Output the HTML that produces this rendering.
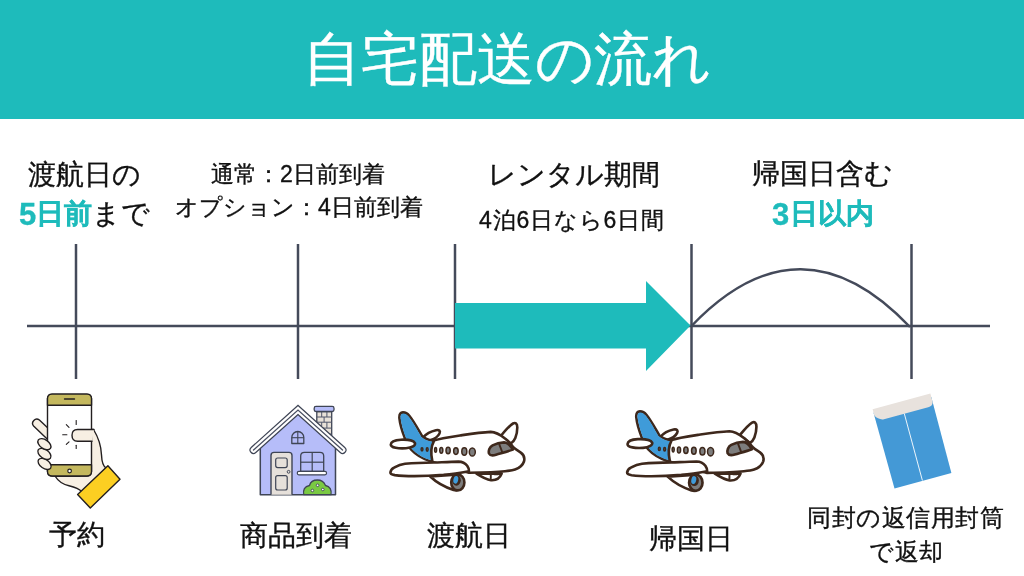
<!DOCTYPE html>
<html lang="ja">
<head>
<meta charset="utf-8">
<style>
html,body{margin:0;padding:0;}
body{width:1024px;height:576px;position:relative;overflow:hidden;background:#fff;font-family:"Liberation Sans",sans-serif;color:#111;}
.hdr{position:absolute;left:0;top:0;width:1024px;height:118.5px;background:#1ebbbb;}
.t{position:absolute;white-space:nowrap;line-height:1;will-change:transform;-webkit-text-stroke:0.35px currentColor;}
.teal{color:#1ebbbb;font-weight:bold;}
svg{position:absolute;left:0;top:0;}
</style>
</head>
<body>
<div class="hdr"></div>
<div class="t" style="left:303px;top:30px;font-size:58px;color:#fff;">自宅配送の流れ</div>

<div class="t" style="left:28px;top:161px;font-size:28px;">渡航日の</div>
<div class="t" style="left:19px;top:200px;font-size:28px;"><span class="teal"><span style="font-size:31px;line-height:0;position:relative;top:1.5px">5</span>日前</span>まで</div>

<div class="t" style="left:211px;top:163px;font-size:23px;">通常：2日前到着</div>
<div class="t" style="left:175px;top:196px;font-size:23px;">オプション：4日前到着</div>

<div class="t" style="left:488px;top:161px;font-size:27.5px;">レンタル期間</div>
<div class="t" style="left:479px;top:209px;font-size:23px;letter-spacing:0.8px;">4泊6日なら6日間</div>

<div class="t" style="left:752px;top:160px;font-size:28px;">帰国日含む</div>
<div class="t teal" style="left:772px;top:200px;font-size:28px;letter-spacing:0.3px;"><span style="font-size:31px;line-height:0;position:relative;top:1.5px">3</span>日以内</div>

<div class="t" style="left:49px;top:521px;font-size:28px;">予約</div>
<div class="t" style="left:240px;top:522px;font-size:28px;">商品到着</div>
<div class="t" style="left:427px;top:522px;font-size:28px;">渡航日</div>
<div class="t" style="left:649px;top:525px;font-size:28px;">帰国日</div>
<div class="t" style="left:807px;top:506px;font-size:24px;letter-spacing:0.57px;">同封の返信用封筒</div>
<div class="t" style="left:869px;top:540px;font-size:24px;letter-spacing:0.6px;">で返却</div>

<svg width="1024" height="576" viewBox="0 0 1024 576">
 <defs>
  <g id="plane" stroke="#3e281c" stroke-width="2.6" stroke-linejoin="round" stroke-linecap="round">
   <!-- far stabilizer -->
   <path d="M423 437.5 C426 434 431 431.2 436 430.2 C439.5 429.6 440.6 431.2 439.5 433.5 C438 436.5 434.5 439 430 440.2 C426.5 441 423.5 440 423 437.5 Z" fill="#fff"/>
   <!-- winglet -->
   <path d="M500.8 436 C504.5 431.5 509.5 425.5 513 423.5 C515.5 422.2 517.3 423.5 517.3 427.5 C517.3 431 516.5 435 515.3 438 C514.3 440.5 512.5 442.5 510.8 443.5 Z" fill="#fff"/>
   <!-- fuselage -->
   <path d="M403 412.4 C400.5 412.6 399.2 414.5 399.4 418 C400 424 402.5 432 405 438.5 C406.5 443 408.5 446.5 411 449.5 C416 455 423 459 431 461.5 L469 472.8 C480 472.6 495 472.3 505 471.2 C510 470.8 513 470.3 515 469.6 C519.5 468 522.8 465 524 461.5 C525 457.5 523.5 454.5 520.8 452.6 C518 450.8 515.5 449.5 513.2 447.2 C511.5 444.5 509 441.5 505 438.5 C500 434.5 495 432 490.7 431.9 C480 432.4 470 434 460 435.5 C450 437 440 438.5 432.8 440.8 C428 440 424.5 438.5 422 436 C419 431 414 421.5 409.5 416 C407.5 413.5 405.5 412.4 403 412.4 Z" fill="#fff"/>
   <!-- blue tail -->
   <path d="M403 413.5 C401 413.7 400.3 415.3 400.5 418 C401.2 424 403.5 432 406 438.3 C407.5 442.6 409.4 446 411.8 448.8 C416.5 454.2 423.5 458.2 431.8 460.5 C430.6 455 430.4 447.5 432.6 441.8 C427.8 441 424 439.4 421.2 436.7 C418.3 431.8 413.3 422.3 408.8 416.8 C406.8 414.5 405 413.4 403 413.5 Z" fill="#3f9bd9" stroke="none"/>
   <path d="M433.8 441.3 C431.2 446 430.8 454 432.3 461.1" fill="none"/>
   <!-- near stabilizer -->
   <path d="M390.8 444.5 C391 441.8 395.2 440 401 439.7 C407.8 439.4 413.5 440.5 415 443.1 C415.6 445.4 412.2 447.8 406 448.2 C398.8 448.7 390.6 447.8 390.8 444.5 Z" fill="#fff"/>
   <!-- windows -->
   <g fill="#7d7d7d" stroke-width="1.5">
    <ellipse cx="422" cy="449.3" rx="0.9" ry="1.6"/>
    <ellipse cx="427.2" cy="449.5" rx="0.9" ry="1.7"/>
    <ellipse cx="435.6" cy="449.9" rx="1.0" ry="2.3"/>
    <ellipse cx="441.3" cy="450.3" rx="1.55" ry="2.9"/>
    <ellipse cx="448.1" cy="450.5" rx="2.1" ry="3.2"/>
    <ellipse cx="455.9" cy="451.1" rx="2.25" ry="3.35"/>
    <ellipse cx="464.3" cy="451.5" rx="2.5" ry="3.7"/>
    <ellipse cx="472.3" cy="452" rx="3" ry="4.1"/>
   </g>
   <!-- cockpit -->
   <path d="M492.6 445.3 C496 443.6 500 442.6 504.1 442.4 C507.5 442.5 510.5 445.5 512.8 449.6 C508 451.5 502 453 496 454.8 C493 455.7 490 455.5 489 453.5 C488.2 451 489.5 447 492.6 445.3 Z" fill="#7d7d7d"/>
   <path d="M499.3 444.4 L502.2 452" fill="none" stroke-width="1.9"/>
   <!-- rear gear -->
   <path d="M476.5 473.6 C481 476.5 486 479.5 491 480.2 C496 480.5 500 478 501.7 473.5 Z" fill="#fff"/>
   <path d="M490.8 474 L490.8 478.6 M494.5 474.2 C497 474.5 498.8 474 500 473.5" fill="none" stroke-width="1.9"/>
   <!-- engine -->
   <path d="M430.2 476.5 C436 482 446 487.5 453.6 490 L456.5 490.4 L459 474.5 Z" fill="#fff"/>
   <ellipse cx="457.8" cy="482.4" rx="6.6" ry="8" fill="#7d7d7d"/>
   <ellipse cx="456.4" cy="480.3" rx="4.4" ry="5.4" fill="#3e281c" stroke="none"/>
   <ellipse cx="455.8" cy="479.8" rx="2.4" ry="3.9" transform="rotate(12 455.8 479.8)" fill="#3f9bd9" stroke="none"/>
   <!-- wing -->
   <path d="M390.4 472.3 C391 469.8 392.5 468.2 394 467.7 C398 465.5 401 464.3 405 463.8 C415 462.9 425 462.6 433.8 462.5 C442 462.2 450 461.8 458.5 461.6 C462.5 461.7 465.3 463.3 467.2 465.8 C468.5 467.7 469.2 469.5 469 471.2 C460 472.8 452 474 443.6 474.8 C434 475.5 424 476 414.3 476.1 C408 476.1 400 475.8 394.8 475.1 C391.5 474.5 390.3 473.3 390.4 472.3 Z" fill="#fff"/>
  </g>
 </defs>

 <g stroke="#444a5a" stroke-width="2.5" fill="none">
  <line x1="27" y1="326" x2="990" y2="326"/>
  <line x1="76" y1="244" x2="76" y2="379"/>
  <line x1="298" y1="244" x2="298" y2="379"/>
  <line x1="455" y1="244" x2="455" y2="379"/>
  <line x1="691.5" y1="244" x2="691.5" y2="379"/>
  <line x1="911.5" y1="244" x2="911.5" y2="379"/>
  <path d="M691.5 326 Q800.5 212 910 327"/>
 </g>
 <polygon fill="#1ebbbb" points="455,303 646,303 646,281 690.5,325.5 646,371 646,348.5 455,348.5"/>

 <!-- phone icon -->
 <g stroke="#231f20" stroke-width="1.4" stroke-linejoin="round" stroke-linecap="round">
  <!-- upper finger -->
  <path d="M50 441.7 L33.6 426 A4.2 4.2 0 0 1 39.4 420 L50 430 Z" fill="#f7efe3"/>
  <!-- palm -->
  <path d="M55 476 C58 481 63.5 484.5 69 485.8 C74.5 487 79 488.5 82 492 L106 467.8 C102.8 466 101.8 462 101.5 455 C101.2 447 100 440 93.5 429.5 L80 429.5 L80 476 Z" fill="#f7efe3"/>
  <!-- phone -->
  <rect x="47.5" y="394.1" width="44" height="81.9" rx="4.5" fill="#fff"/>
  <path d="M47.5 405.3 L47.5 398.6 Q47.5 394.1 52 394.1 L87 394.1 Q91.5 394.1 91.5 398.6 L91.5 405.3 Z" fill="#c4b85e"/>
  <path d="M47.5 464.8 L91.5 464.8 L91.5 471.5 Q91.5 476 87 476 L52 476 Q47.5 476 47.5 471.5 Z" fill="#c4b85e"/>
  <line x1="64.5" y1="399" x2="74.5" y2="399"/>
  <circle cx="69.6" cy="471" r="1.8" fill="#fff" stroke-width="1.2"/>
  <!-- thumb on screen -->
  <path d="M94 429.5 L77.5 429.5 C74 429.5 72 432 72 435.3 C72 438.7 74 441.2 77.5 441.2 L92 441.2" fill="#f7efe3"/>
  <!-- fingers -->
  <ellipse cx="44.6" cy="463.9" rx="7.4" ry="4.4" transform="rotate(35 44.6 463.9)" fill="#f7efe3"/>
  <ellipse cx="44.4" cy="453.9" rx="7.4" ry="4.4" transform="rotate(35 44.4 453.9)" fill="#f7efe3"/>
  <ellipse cx="44.4" cy="444.2" rx="7.4" ry="4.4" transform="rotate(35 44.4 444.2)" fill="#f7efe3"/>
  <!-- tap lines -->
  <g stroke-width="1.1">
   <line x1="76.2" y1="420.5" x2="76.2" y2="424.5"/>
   <line x1="66.3" y1="424.7" x2="69" y2="427.3"/>
   <line x1="62.7" y1="434.7" x2="66.9" y2="434.7"/>
   <line x1="66.3" y1="444.4" x2="69" y2="441.8"/>
   <line x1="76.2" y1="445.3" x2="76.2" y2="448.5"/>
  </g>
  <!-- cuff -->
  <polygon points="77.6,494.4 107.9,465.7 120,479.2 90.3,508" fill="#fccf22"/>
 </g>

 <!-- house icon -->
 <g stroke="#3f4555" stroke-linejoin="round">
  <polygon points="260.3,494.7 260.3,447 298,413 335.5,447 335.5,494.7" fill="#b6bdf9" stroke-width="1.5"/>
  <!-- chimney -->
  <path d="M316.8 411.5 L331.7 411.5 L331.7 440 L316.8 426 Z" fill="#e9e2d8" stroke-width="1.3"/>
  <g stroke-width="1" stroke="#50566a">
   <line x1="316.8" y1="417" x2="331.7" y2="417"/>
   <line x1="316.8" y1="422.2" x2="331.7" y2="422.2"/>
   <line x1="320" y1="428.1" x2="331.7" y2="428.1"/>
   <line x1="326" y1="434" x2="331.7" y2="434"/>
   <line x1="321.7" y1="411.5" x2="321.7" y2="417"/>
   <line x1="326.9" y1="411.5" x2="326.9" y2="417"/>
   <line x1="324.1" y1="417" x2="324.1" y2="422.2"/>
   <line x1="321.7" y1="422.2" x2="321.7" y2="426"/>
   <line x1="326.9" y1="422.2" x2="326.9" y2="428.1"/>
  </g>
  <rect x="314.2" y="406.4" width="19.8" height="5.1" rx="1.8" fill="#b6bdf9" stroke-width="1.3"/>
  <!-- roof -->
  <path d="M253.5 450 L298 410 L342.5 450" fill="none" stroke="#3f4555" stroke-width="8" stroke-linecap="round" stroke-linejoin="miter"/>
  <path d="M253.5 450 L298 410 L342.5 450" fill="none" stroke="#fff" stroke-width="5.6" stroke-linecap="round" stroke-linejoin="miter"/>
  <path d="M253.5 450 L298 410 L342.5 450" fill="none" stroke="#4a5062" stroke-width="1.3" stroke-linecap="round" stroke-linejoin="miter"/>
  <!-- round window -->
  <path d="M291.8 443.5 L291.8 437.5 A6 6 0 0 1 303.8 437.5 L303.8 443.5 Z" fill="#b6bdf9" stroke-width="1.3"/>
  <line x1="297.8" y1="431.5" x2="297.8" y2="443.5" stroke-width="1.1"/>
  <line x1="291.8" y1="437.7" x2="303.8" y2="437.7" stroke-width="1.1"/>
  <!-- door -->
  <path d="M271 494.7 L271 455.4 Q271 452.4 274 452.4 L289 452.4 Q292 452.4 292 455.4 L292 494.7" fill="#e6e0da" stroke-width="1.4"/>
  <rect x="275.7" y="458" width="11.5" height="9.6" rx="2" fill="#e6e0da" stroke-width="1.2"/>
  <rect x="275.7" y="475.6" width="11.5" height="14.4" rx="2" fill="#e6e0da" stroke-width="1.2"/>
  <circle cx="288.6" cy="471.8" r="1.4" fill="#e6e0da" stroke-width="1"/>
  <!-- window -->
  <path d="M300.7 471.4 L300.7 456 Q300.7 452.3 304.4 452.3 L320 452.3 Q323.7 452.3 323.7 456 L323.7 471.4 Z" fill="#b6bdf9" stroke-width="1.3"/>
  <line x1="312.2" y1="452.3" x2="312.2" y2="471.4" stroke-width="1.2"/>
  <line x1="300.7" y1="462.2" x2="323.7" y2="462.2" stroke-width="1.2"/>
  <rect x="297.3" y="471.4" width="29.2" height="3.4" rx="1.5" fill="#fff" stroke-width="1.2"/>
  <!-- bush -->
  <path d="M303.8 494.7 C302.8 490 304.5 486.2 309.5 485.5 C310.5 481.5 314 480 317.5 480 C321 480 324 482 325.5 485.5 C330 486.2 331.8 490 331 494.7 Z" fill="#7ac943" stroke-width="1.3"/>
  <g fill="#fff" stroke-width="0.9">
   <circle cx="317.6" cy="485.3" r="1.3"/>
   <circle cx="312.4" cy="490.5" r="1.3"/>
   <circle cx="322.8" cy="489.5" r="1.3"/>
  </g>
 </g>

 <!-- airplanes -->
 <use href="#plane"/>
 <use href="#plane" transform="matrix(1.019 0 0 1.019 229.3 -8.9)"/>

 <!-- envelope -->
 <polygon points="873.5,412.8 931.3,397.1 951.4,472.9 894.5,488.5" fill="#4499d6"/>
 <path d="M872.6 409.3 L930.4 393.6 L932.6 402 C932.8 404.8 931 406.5 928.2 407.2 L884 419.3 C880.5 420 877 418.5 874.3 415.6 Z" fill="#e8e2dd"/>
 <line x1="904.3" y1="413.6" x2="922.4" y2="480.5" stroke="#fff" stroke-width="0.9"/>
</svg>
</body>
</html>
